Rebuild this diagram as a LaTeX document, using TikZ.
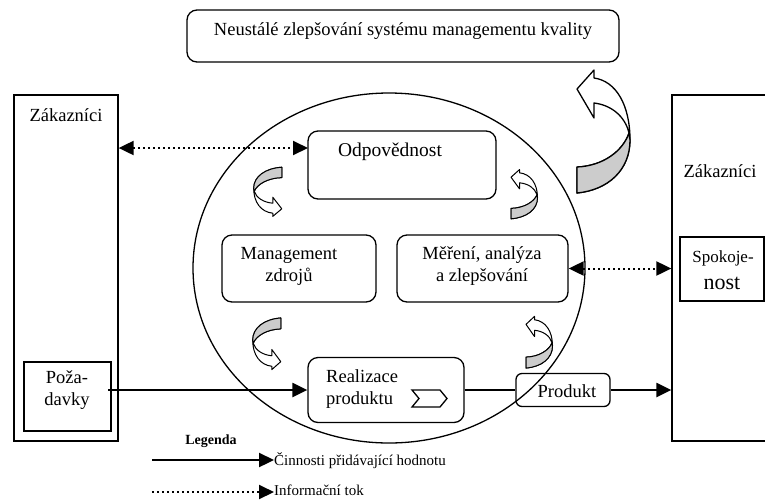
\documentclass[tikz,border=0pt]{standalone}
\usepackage{fontspec}
\setmainfont{Liberation Serif}
\usetikzlibrary{arrows.meta}

\tikzset{
  frame/.style={draw, line width=1.3pt, inner sep=0pt},
  rbox/.style={frame, rounded corners=10pt},
  lbl/.style={inner sep=0pt, align=center, font=\fontsize{18.5}{22}\selectfont},
  flow/.style={line width=2.3pt, -{Triangle[length=15pt,width=14pt]}},
  info/.style={line width=2pt, dash pattern=on 2pt off 3pt,
    {Triangle[length=15pt,width=14pt]}-{Triangle[length=15pt,width=14pt]}},
  infoone/.style={line width=2pt, dash pattern=on 2pt off 3pt,
    -{Triangle[length=15pt,width=14pt]}},
  twist/.pic={
    % white front of the ribbon with its head
    \filldraw[fill=white, line join=round]
      (-9,-28) -- (-9,-13) -- (-26,-42) -- (-9,-61) -- (-9,-53)
      .. controls (13,-50) and (27,-26) .. (27,9)
      .. controls (27,39) and (5,59) .. (-26,62)
      -- (-26,36)
      .. controls (0,35) and (20,20) .. (26,2)
      .. controls (22,-15) and (8,-26) .. (-9,-28) -- cycle;
    % grey back of the ribbon near the tail
    \filldraw[fill=gray!40, line join=round]
      (-26,36) .. controls (0,35) and (20,20) .. (26,2)
      -- (27,9) .. controls (27,39) and (5,59) .. (-26,62) -- cycle;
  }
}

\begin{document}
\begin{tikzpicture}[x=1pt, y=-1pt]
\useasboundingbox (0,0) rectangle (765,499);
\clip (0,0) rectangle (765,499);

% process circle
\draw[line width=1.3pt] (389,268) ellipse [x radius=196, y radius=175];

% top box
\node[rbox, minimum width=432pt, minimum height=52pt] (top) at (403,36) {};
\node[lbl] (toptxt) at (403,31) {Neustálé zlepšování systému managementu kvality};

% customers on the left
\node[frame, minimum width=104pt, minimum height=346pt] (leftbox) at (66,268) {};
\node[lbl] (lefttxt) at (66,115) {Zákazníci};
\node[frame, minimum width=87pt, minimum height=69pt] (req) at (67.5,396.5) {};
\node[lbl] (reqtxt) at (67,390) {Poža-\\davky};

% customers on the right
\node[frame, minimum width=108pt, minimum height=346pt] (rightbox) at (726,268) {};
\node[lbl] (righttxt) at (720,171) {Zákazníci};
\node[frame, minimum width=84pt, minimum height=64pt] (sat) at (722,269) {};
\node[inner sep=0pt, font=\fontsize{17}{20}\selectfont] (sattop) at (723,258) {Spokoje-};
\node[inner sep=0pt, font=\fontsize{22}{24}\selectfont] (satbot) at (722,283) {nost};

% processes
\node[rbox, minimum width=188pt, minimum height=68pt] (odp) at (402,165) {};
\node[lbl, font=\fontsize{19.5}{22}\selectfont] (odptxt) at (390,152) {Odpovědnost};
\node[rbox, minimum width=154pt, minimum height=67pt] (mgmt) at (299,268.5) {};
\node[lbl] (mgmttxt) at (289,266) {Management\\zdrojů};
\node[rbox, minimum width=171pt, minimum height=67pt] (mer) at (482.5,268.5) {};
\node[lbl] (mertxt) at (482,266) {Měření, analýza\\a zlepšování};
\node[rbox, minimum width=156pt, minimum height=65pt] (real) at (386,390) {};
\node[lbl, align=left, anchor=west] (realtxt) at (326,389) {Realizace\\produktu};
\draw[line width=1.3pt, line join=miter]
  (412,390) -- (440,390) -- (447,398.5) -- (440,407) -- (412,407) -- (419,398.5) -- cycle;
\node[rbox, rounded corners=6pt, minimum width=94pt, minimum height=33pt] (prod) at (563,390) {};
\node[lbl] (prodtxt) at (567,391) {Produkt};

% value-adding flow
\coordinate (reqout) at (108,390);
\draw[flow] (reqout) -- (real.west);
\draw[line width=1.3pt] (real.east) -- (prod.west);
\draw[flow] (prod.east) -- (rightbox.west |- prod.east);

% information flow
\coordinate (odpin) at (308,148);
\draw[info] (leftbox.east |- odpin) -- (odpin);
\draw[info] (mer.east) -- (rightbox.west |- mer.east);

% improvement cycle arrows
\pic[line width=1.3pt] at (603,131) {twist};
\pic[line width=1pt, xscale=-0.53, yscale=-0.4] at (268,192) {twist};
\pic[line width=1pt, xscale=0.5, yscale=0.4] at (524,194) {twist};
\pic[line width=1pt, xscale=-0.53, yscale=-0.42] at (267,344) {twist};
\pic[line width=1pt, xscale=0.5, yscale=0.42] at (539,342) {twist};

% legend
\node[inner sep=0pt, font=\bfseries\fontsize{14}{16}\selectfont] (leg) at (211,441) {Legenda};
\coordinate (la) at (152,460);
\node[inner sep=0pt, anchor=west, font=\fontsize{15}{17}\selectfont] (lat) at (274,461) {Činnosti přidávající hodnotu};
\draw[flow] (la) -- (lat.west |- la);
\coordinate (lb) at (152,492);
\node[inner sep=0pt, anchor=west, font=\fontsize{15}{17}\selectfont] (lbt) at (274,490) {Informační tok};
\draw[infoone] (lb) -- (lbt.west |- lb);
\end{tikzpicture}
\end{document}
